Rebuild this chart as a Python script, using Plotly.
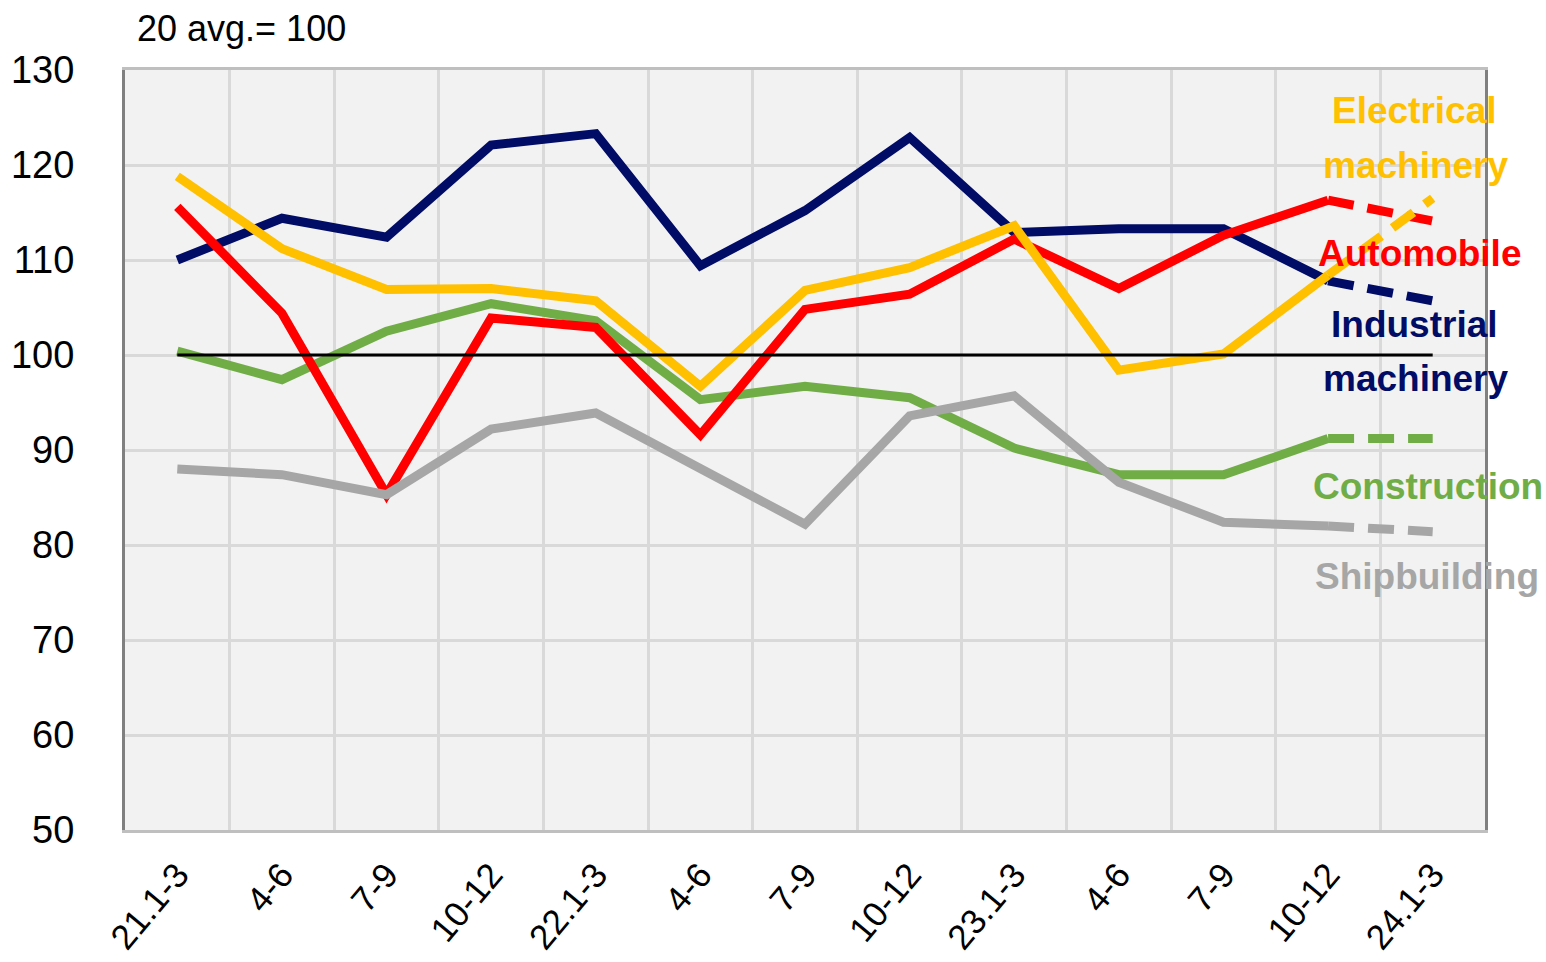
import plotly.graph_objects as go

quarters = ["21.1-3", "4-6", "7-9", "10-12", "22.1-3", "4-6", "7-9", "10-12",
            "23.1-3", "4-6", "7-9", "10-12", "24.1-3"]

industrial = [110.0, 114.4, 112.4, 122.1, 123.3, 109.4, 115.2, 122.9, 112.9, 113.3, 113.3, 107.8, 105.7]
construction = [100.4, 97.4, 102.5, 105.4, 103.6, 95.3, 96.7, 95.5, 90.2, 87.4, 87.4, 91.2, 91.2]
automobile = [115.6, 104.4, 85.3, 103.9, 102.9, 91.6, 104.8, 106.4, 112.2, 107.0, 112.6, 116.3, 114.1]
shipbuilding = [88.0, 87.4, 85.3, 92.2, 93.9, 88.0, 82.2, 93.6, 95.7, 86.6, 82.4, 82.0, 81.4]
electrical = [118.8, 111.2, 106.9, 107.0, 105.7, 96.7, 106.8, 109.2, 113.6, 98.4, 100.1, 108.4, 116.5]
baseline = [100] * len(quarters)

series = [
    ("Industrial machinery", industrial, "#000C66"),
    ("Construction", construction, "#70AD47"),
    ("Automobile", automobile, "#FF0000"),
    ("Shipbuilding", shipbuilding, "#A6A6A6"),
    ("Electrical machinery", electrical, "#FFC000"),
]

x = list(range(len(quarters)))
FONT = "Liberation Sans, Arial, sans-serif"

fig = go.Figure()
for name, vals, color in series:
    fig.add_trace(go.Scatter(x=x[:-1], y=vals[:-1], mode="lines", name=name,
                             line=dict(color=color, width=9), showlegend=False,
                             hoverinfo="skip"))
    fig.add_trace(go.Scatter(x=x[-2:], y=vals[-2:], mode="lines", name=name + " (f)",
                             line=dict(color=color, width=9, dash="26px,14px"),
                             showlegend=False, hoverinfo="skip"))

fig.add_trace(go.Scatter(x=x, y=baseline, mode="lines", line=dict(color="black", width=3),
                         showlegend=False, hoverinfo="skip"))

# series labels (one annotation per text line), positions in paper units
labels = [
    ("Electrical", "#FFC000", 0.9485, 0.947),
    ("machinery", "#FFC000", 0.9490, 0.875),
    ("Automobile", "#FF0000", 0.9522, 0.7592),
    ("Industrial", "#000C66", 0.9485, 0.6645),
    ("machinery", "#000C66", 0.9490, 0.5947),
    ("Construction", "#70AD47", 0.9581, 0.4526),
    ("Shipbuilding", "#A6A6A6", 0.9574, 0.3329),
]
for text, color, px, py in labels:
    fig.add_annotation(text="<b>" + text + "</b>", xref="paper", yref="paper", x=px, y=py,
                       showarrow=False, xanchor="center", yanchor="middle",
                       font=dict(family=FONT, size=37, color=color))

fig.add_annotation(text="20 avg.= 100", xref="paper", yref="paper", x=0.0074, y=1.055,
                   xanchor="left", yanchor="middle", showarrow=False,
                   font=dict(family=FONT, size=36, color="black"))

fig.update_layout(
    width=1546, height=962,
    margin=dict(l=125, r=61, t=70, b=132),
    paper_bgcolor="white", plot_bgcolor="#F2F2F2",
    font=dict(family=FONT, size=36, color="black"),
    xaxis=dict(range=[-0.5, 12.5], tickmode="array", tickvals=x, ticktext=quarters,
               tickangle=-50, showgrid=False, zeroline=False, automargin=False,
               tickfont=dict(family=FONT, size=35),
               showline=True, linecolor="#BFBFBF", linewidth=3, mirror=True,
               ticks="", ticklabelstandoff=7,
               minor=dict(tick0=0.5, dtick=1, showgrid=True, gridcolor="#D9D9D9", gridwidth=3)),
    yaxis=dict(range=[50, 130], tickmode="linear", tick0=50, dtick=10, automargin=False,
               showgrid=True, gridcolor="#D9D9D9", gridwidth=3, zeroline=False,
               tickfont=dict(family=FONT, size=38),
               showline=True, linecolor="#808080", linewidth=3, mirror=True,
               ticks="", ticklabelstandoff=40),
)

fig.write_html("out.html", config={"displayModeBar": False},
               post_script="document.body.style.margin='0';")
